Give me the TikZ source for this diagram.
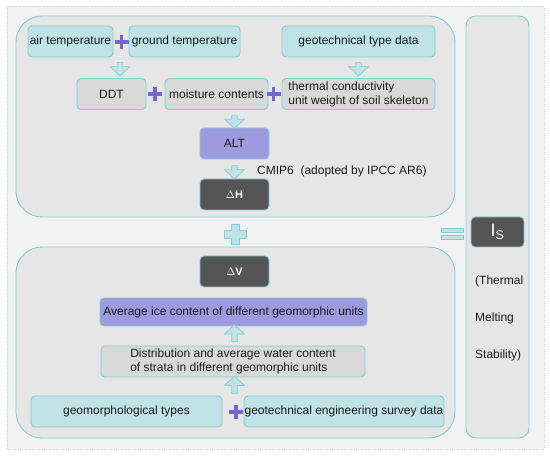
\documentclass[tikz,border=0pt]{standalone}
\usepackage{fontspec}
\setmainfont{Liberation Sans}
\usetikzlibrary{shapes.arrows}

\definecolor{bgcol}{HTML}{F2F2F2}
\definecolor{panelcol}{HTML}{E6E6E6}
\definecolor{edgecol}{HTML}{86CCD0}
\definecolor{cyancol}{HTML}{BFE3E7}
\definecolor{greycol}{HTML}{D9D9D9}
\definecolor{purplecol}{HTML}{9D9AE0}
\definecolor{darkcol}{HTML}{555555}
\definecolor{pluscol}{HTML}{7467D3}

\begin{document}
\begin{tikzpicture}[%
      x=1pt, y=-1pt,
      font=\fontsize{12}{14}\selectfont,
      panel/.style={%
        draw          = edgecol,
        fill          = panelcol,
        line width    = 0.9pt,
        rounded corners = 26pt,
      },
      box/.style={%
        draw          = edgecol,
        line width    = 0.9pt,
        rounded corners = 4pt,
        minimum height = 31pt,
        inner sep     = 0pt,
        align         = center,
        text          = black!90,
      },
      cyanbox/.style={box, fill = cyancol},
      greybox/.style={box, fill = greycol},
      purplebox/.style={box, fill = purplecol},
      darkbox/.style={box, fill = darkcol, text = white,
        font = \fontsize{11}{13}\selectfont\bfseries},
      blockarrow/.style={%
        single arrow,
        draw          = edgecol,
        fill          = cyancol,
        line width    = 0.7pt,
        inner xsep    = 1.5pt,
        inner ysep    = 5pt,
        minimum width = 20pt,
        single arrow head extend = 5pt,
        single arrow tip angle = 95,
      },
      downarrow/.style={blockarrow, shape border rotate = 270,
        minimum height = 13pt},
      uparrow/.style={blockarrow, shape border rotate = 90,
        minimum height = 17pt},
      plusmark/.style={draw = pluscol, line width = 3.6pt},
      sidetext/.style={anchor = west, inner sep = 0pt, text = black!90},
      ]

      % page and panels
      \useasboundingbox (0,0) rectangle (550,457);
      \draw[fill=bgcol, draw=edgecol!60!gray!60, dotted] (7,6) rectangle (544,449);
      \draw[panel] (16,16) rectangle (455,217);
      \draw[panel] (16,247) rectangle (455,438);
      \draw[panel, rounded corners=10pt] (466,16) rectangle (529,438);

      % top panel
      \node[cyanbox, minimum width=85pt] (Air) at (70.5,41.5) {air temperature};
      \node[cyanbox, minimum width=111pt] (Ground) at (184.5,41.5) {ground temperature};
      \node[cyanbox, minimum width=153pt] (Geo-Type) at (358.5,41.5) {geotechnical type data};

      \node[greybox, minimum width=69pt] (DDT) at (111.5,94) {DDT};
      \node[greybox, minimum width=103pt] (Moist) at (216.5,94) {moisture contents};
      \node[greybox, minimum width=153pt, align=left] (Therm) at (358.5,94) {thermal conductivity \\ unit weight of soil skeleton};

      \node[purplebox, minimum width=69pt] (ALT) at (234.5,143.5) {ALT};
      \node[darkbox, minimum width=69pt] (dH) at (234.5,194.5) {$\Delta$H};
      \node[sidetext] (CMIP) at (257,171) {CMIP6~~(adopted by IPCC AR6)};

      % bottom panel
      \node[darkbox, minimum width=69pt] (dV) at (234.5,271.5) {$\Delta$V};
      \node[purplebox, minimum width=267pt, minimum height=28pt] (Ice) at (233.5,312) {Average ice content of different geomorphic units};
      \node[greybox, minimum width=264pt, align=left] (Strata) at (233,361.5) {Distribution and average water content \\ of strata in different geomorphic units};
      \node[cyanbox, minimum width=191pt] (Geomorph) at (126.5,411.5) {geomorphological types};
      \node[cyanbox, minimum width=200pt] (Survey) at (344,411.5) {geotechnical engineering survey data};

      % right panel
      \node[box, fill=darkcol, text=white, minimum width=53pt, minimum height=30pt,
        font=\fontsize{18}{20}\selectfont] (Is) at (497.5,232) {I\textsubscript{S}};
      \node[sidetext] (Thermal) at (475,281) {(Thermal};
      \node[sidetext] (Melting) at (475,318) {Melting};
      \node[sidetext] (Stab) at (475,355) {Stability)};

      % arrows
      \node[downarrow] (A1) at (120,68) {};
      \node[downarrow] (A2) at (358.5,68) {};
      \node[downarrow] (A3) at (234.5,120.5) {};
      \node[downarrow] (A4) at (234.5,171) {};
      \node[uparrow] (A5) at (234.5,334.5) {};
      \node[uparrow] (A6) at (234.5,386) {};

      % plus signs
      \foreach \px/\py in {121.5/42, 155/94, 273.5/94, 236/412} {
        \draw[plusmark] (\px-7,\py) -- (\px+7,\py);
        \draw[plusmark] (\px,\py-7) -- (\px,\py+7);
      }

      % cross and equals between panels
      \draw[draw=edgecol, fill=cyancol, line width=0.7pt]
        (231,224) -- (239,224) -- (239,230) -- (246,230) -- (246,238) -- (239,238)
        -- (239,244) -- (231,244) -- (231,238) -- (224,238) -- (224,230) -- (231,230) -- cycle;
      \draw[draw=edgecol, fill=cyancol, line width=0.7pt] (441,228) rectangle (463,232);
      \draw[draw=edgecol, fill=cyancol, line width=0.7pt] (441,235) rectangle (463,239);

    \end{tikzpicture}
\end{document}
